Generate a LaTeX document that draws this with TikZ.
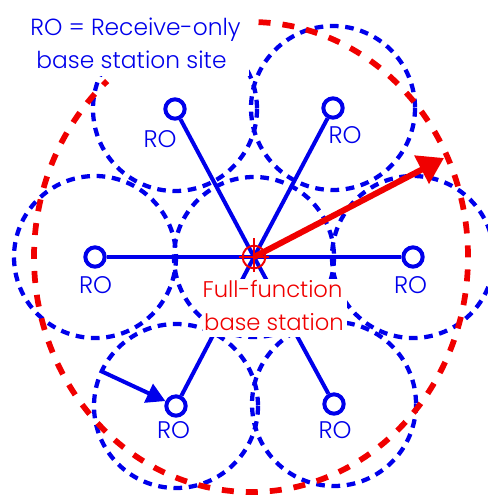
\documentclass[tikz,border=0pt]{standalone}
\usepackage{fontspec}
\setmainfont{Poppins}[UprightFont=* Light]
\usetikzlibrary{arrows.meta}
\definecolor{roblue}{RGB}{0,0,235}
\definecolor{rored}{RGB}{240,0,0}
\begin{document}
\begin{tikzpicture}[x=0.75pt,y=-0.75pt,
  cell/.style={draw=roblue,line width=3.2pt,dash pattern=on 6.5pt off 5pt},
  coverage/.style={draw=rored,line width=4.3pt,dash pattern=on 9pt off 9pt},
  link/.style={draw=roblue,line width=3pt},
  site/.style={circle,draw=roblue,line width=3pt,fill=white,inner sep=0pt,minimum size=14.5pt},
  hub/.style={circle,draw=rored,line width=1.5pt,inner sep=0pt,minimum size=17pt},
  rolabel/.style={text=roblue,font=\fontsize{18}{18}\selectfont,inner sep=0pt,anchor=base},
  titletext/.style={text=roblue,font=\fontsize{17.5}{17.5}\selectfont,inner sep=0pt,anchor=base},
  redtext/.style={text=rored,font=\fontsize{17}{17}\selectfont,inner sep=0pt,anchor=base},
  redarrow/.style={draw=rored,line width=4.5pt,-{Triangle[length=19pt,width=23pt]}},
  bluearrow/.style={draw=roblue,line width=3pt,-{Triangle[length=14pt,width=15pt]}},
  cover/.style={fill=white}
]
\useasboundingbox (0,0) rectangle (487,496);
\coordinate (C) at (254,257);
% cells
\draw[cell] (C) circle[radius=80];
\draw[cell] (95,257) circle[radius=81];
\draw[cell] (413,257) circle[radius=81];
\draw[cell] (175,109) circle[radius=82];
\draw[cell] (333,108) circle[radius=82];
\draw[cell] (176,406) circle[radius=82];
\draw[cell] (334,404) circle[radius=82];
% coverage of the full-function station
\draw[coverage] (251,257) ++(-88:217 and 235) arc[start angle=-88,end angle=228.5,x radius=217,y radius=235];
% sites
\node[site] (L) at (95,257) {};
\node[site] (R) at (413,257) {};
\node[site] (UL) at (175,109) {};
\node[site] (UR) at (333,108) {};
\node[site] (LL) at (176,406) {};
\node[site] (LR) at (334,404) {};
% links
\draw[link] (L) -- (C);
\draw[link] (R) -- (C);
\draw[link] (UL) -- (C);
\draw[link] (UR) -- (C);
\draw[link] (LL) -- (C);
\draw[link] (LR) -- (C);
% covers behind texts
\fill[cover] (22,10) rectangle (249,76);
\fill[cover] (203,279) rectangle (347,337);
% texts
\node[titletext] (t1) at (135.5,36) {RO = Receive-only};
\node[titletext] (t2) at (131.5,68) {base station site};
\node[redtext] (f1) at (272.5,297) {Full-function};
\node[redtext] (f2) at (274,330) {base station};
\node[rolabel] (lL) at (95.5,293) {RO};
\node[rolabel] (lR) at (410.5,293) {RO};
\node[rolabel] (lUL) at (160,147) {RO};
\node[rolabel] (lUR) at (345,143) {RO};
\node[rolabel] (lLL) at (173.5,438) {RO};
\node[rolabel] (lLR) at (335,438) {RO};
% hub
\node[hub] (hub) at (C) {};
\draw[rored,line width=1.5pt,shorten <=-5pt,shorten >=-2pt] (hub.north) -- (hub.south);
\draw[rored,line width=1.5pt,shorten <=-2pt,shorten >=-2pt] (hub.west) -- (hub.east);
% arrows
\coordinate (tipR) at (444,158);
\draw[redarrow] (C) -- (tipR);
\coordinate (bstart) at (103,372);
\draw[bluearrow] (bstart) -- (LL);
\end{tikzpicture}
\end{document}
